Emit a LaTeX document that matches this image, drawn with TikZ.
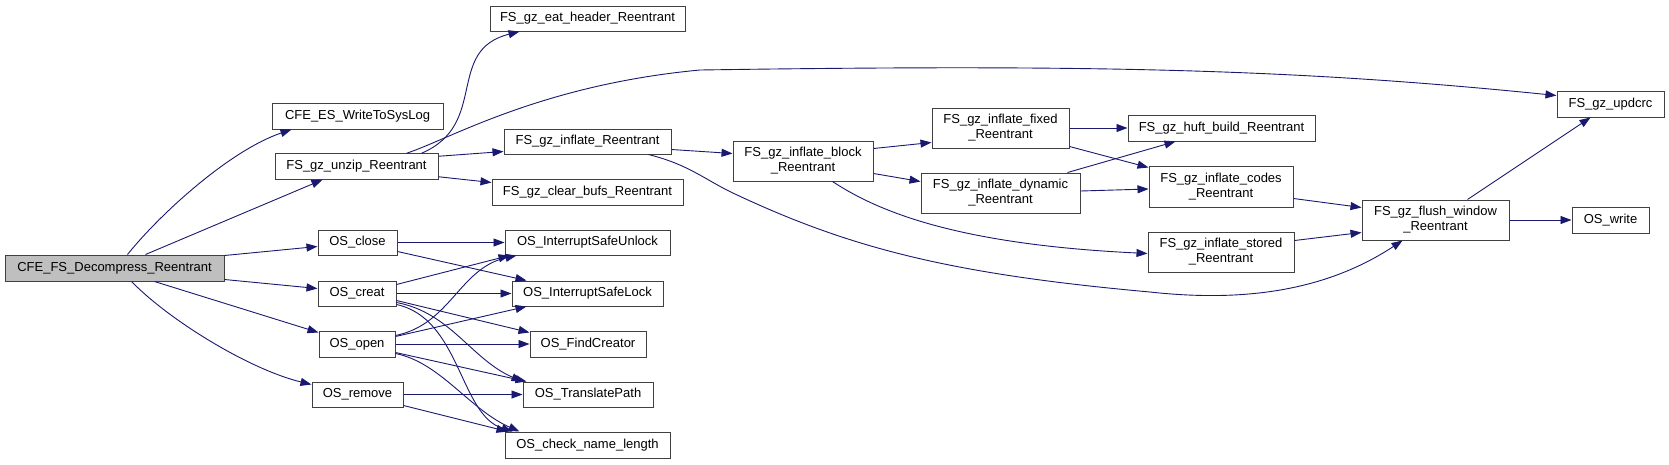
\documentclass[tikz,border=0pt]{standalone}
\usepackage{fontspec}
\setmainfont{Liberation Sans}
\usetikzlibrary{arrows.meta,calc}
\definecolor{edgeblue}{HTML}{191970}
\definecolor{boxline}{HTML}{404040}
\definecolor{boxgray}{HTML}{BFBFBF}
\tikzset{
  fn/.style={draw=boxline, line width=1pt, rectangle, inner sep=0pt, align=center,
    font=\fontsize{13}{15}\selectfont, text=black, fill=white},
  e/.style={draw=edgeblue, line width=0.9pt, -{Triangle[length=11pt,width=8pt]}},
}
\begin{document}
\begin{tikzpicture}[x=1pt,y=-1pt]
\fill[white] (0,0) rectangle (1669,464);
\useasboundingbox (0,0) rectangle (1669,464);

% nodes
\node[fn, fill=boxgray, minimum width=219pt, minimum height=26pt] (dec) at (114.5,268) {CFE\_FS\_Decompress\_Reentrant};
\node[fn, minimum width=171pt, minimum height=26pt] (wtsl) at (357.5,116) {CFE\_ES\_WriteToSysLog};
\node[fn, minimum width=163pt, minimum height=25.5pt] (unzip) at (356.5,166.5) {FS\_gz\_unzip\_Reentrant};
\node[fn, minimum width=79pt, minimum height=25pt] (close) at (357.5,242.5) {OS\_close};
\node[fn, minimum width=78pt, minimum height=25pt] (creat) at (357,293.5) {OS\_creat};
\node[fn, minimum width=76pt, minimum height=26pt] (open) at (357,344) {OS\_open};
\node[fn, minimum width=91pt, minimum height=25pt] (remove) at (357.5,394.5) {OS\_remove};
\node[fn, minimum width=195pt, minimum height=25pt] (eat) at (587.5,18.5) {FS\_gz\_eat\_header\_Reentrant};
\node[fn, minimum width=167pt, minimum height=25pt] (inflate) at (587.5,141.5) {FS\_gz\_inflate\_Reentrant};
\node[fn, minimum width=191pt, minimum height=26pt] (clear) at (587.5,192) {FS\_gz\_clear\_bufs\_Reentrant};
\node[fn, minimum width=165pt, minimum height=25pt] (unlock) at (587.5,242.5) {OS\_InterruptSafeUnlock};
\node[fn, minimum width=151pt, minimum height=25pt] (lock) at (587.5,293.5) {OS\_InterruptSafeLock};
\node[fn, minimum width=116pt, minimum height=26pt] (find) at (588,344) {OS\_FindCreator};
\node[fn, minimum width=130pt, minimum height=25pt] (trans) at (588,394.5) {OS\_TranslatePath};
\node[fn, minimum width=165pt, minimum height=26pt] (check) at (587.5,445) {OS\_check\_name\_length};
\node[fn, minimum width=140pt, minimum height=40pt] (block) at (803,161) {FS\_gz\_inflate\_block\\\_Reentrant};
\node[fn, minimum width=137pt, minimum height=40pt] (fixed) at (1000.5,128) {FS\_gz\_inflate\_fixed\\\_Reentrant};
\node[fn, minimum width=159pt, minimum height=40pt] (dynamic) at (1000.5,193) {FS\_gz\_inflate\_dynamic\\\_Reentrant};
\node[fn, minimum width=187pt, minimum height=26pt] (huft) at (1221.5,128) {FS\_gz\_huft\_build\_Reentrant};
\node[fn, minimum width=144pt, minimum height=41pt] (codes) at (1221,186.5) {FS\_gz\_inflate\_codes\\\_Reentrant};
\node[fn, minimum width=146pt, minimum height=40pt] (stored) at (1221,252) {FS\_gz\_inflate\_stored\\\_Reentrant};
\node[fn, minimum width=147pt, minimum height=40pt] (flush) at (1435.5,220) {FS\_gz\_flush\_window\\\_Reentrant};
\node[fn, minimum width=107pt, minimum height=26pt] (updcrc) at (1610.5,104) {FS\_gz\_updcrc};
\node[fn, minimum width=77pt, minimum height=26pt] (write) at (1610.5,220) {OS\_write};

% edges from CFE_FS_Decompress_Reentrant
\draw[e] ($(dec.north west)+(123,0)$) .. controls +(32,-40) and +(-62,21) .. ($(wtsl.south west)+(20,0)$);
\draw[e] ($(dec.north west)+(141,0)$) -- ($(unzip.south west)+(48,0)$);
\draw[e] ($(dec.north east)+(0,1)$) -- ($(close.north west)+(0,17)$);
\draw[e] ($(dec.south east)+(0,-2)$) -- ($(creat.north west)+(0,8)$);
\draw[e] ($(dec.south west)+(150,0)$) -- ($(open.north west)+(0,2)$);
\draw[e] ($(dec.south west)+(127,0)$) .. controls +(38,39) and +(-62,-15) .. ($(remove.north west)+(0,3)$);

% edges from FS_gz_unzip_Reentrant
\draw[e] ($(unzip.north west)+(147,0)$) .. controls +(68,-29) and +(-75,19) .. ($(eat.south west)+(30,0)$);
\draw[e] ($(unzip.north west)+(132,0)$) .. controls +(43,-14) and (540,85) .. (700,70)
   .. controls (1100,64) and +(-257,-26) .. ($(updcrc.north west)+(0,5)$);
\draw[e] ($(unzip.north east)+(0,3)$) -- ($(inflate.south west)+(0,-3)$);
\draw[e] ($(unzip.south east)+(0,-3)$) -- ($(clear.north west)+(0,4)$);

% inflate
\draw[e] ($(inflate.south east)+(0,-5)$) -- ($(block.north west)+(0,13)$);
\draw[e] ($(inflate.south east)+(-23,0)$) .. controls (690,165) and (705,180) .. (735,194)
   .. controls (850,248) and (950,274) .. (1150,292)
   .. controls (1250,303) and +(-73,48) .. ($(flush.south west)+(41,0)$);

% block
\draw[e] ($(block.north east)+(0,8)$) -- ($(fixed.south west)+(0,-6)$);
\draw[e] ($(block.south east)+(0,-8)$) -- ($(dynamic.north west)+(0,9)$);
\draw[e] ($(block.south west)+(100,0)$) .. controls +(47,31) and +(-188,-9) .. ($(stored.north west)+(0,22)$);

% fixed, dynamic
\draw[e] (fixed.east) -- (huft.west);
\draw[e] ($(fixed.south east)+(0,-2)$) -- ($(codes.north west)+(0,2)$);
\draw[e] ($(dynamic.north east)+(-13,0)$) -- ($(huft.south west)+(48,0)$);
\draw[e] ($(dynamic.east)+(0,-2)$) -- ($(codes.west)+(0,2.5)$);

% codes, stored, flush
\draw[e] ($(codes.south east)+(0,-9)$) -- ($(flush.north west)+(0,8)$);
\draw[e] ($(stored.north east)+(0,9)$) -- ($(flush.south west)+(0,-8)$);
\draw[e] ($(flush.north west)+(106,0)$) -- ($(updcrc.south west)+(34,0)$);
\draw[e] (flush.east) -- (write.west);

% OS_close
\draw[e] (close.east) -- (unlock.west);
\draw[e] ($(close.south east)+(0,-4)$) -- ($(lock.north west)+(15,0)$);

% OS_creat
\draw[e] ($(creat.north east)+(0,4)$) -- ($(unlock.south west)+(5,0)$);
\draw[e] (creat.east) -- (lock.west);
\draw[e] ($(creat.south east)+(0,-6)$) -- ($(find.north west)+(0,2)$);
\draw[e] ($(creat.south east)+(0,-4)$) .. controls +(54,10) and +(-51,-22) .. (trans.north west);
\draw[e] ($(creat.south east)+(0,-2)$) .. controls +(64,14) and +(-53,-17) .. ($(check.north west)+(8,0)$);

% OS_open
\draw[e] ($(open.north east)+(0,5)$) .. controls +(55,-11) and +(-57,12.5) .. ($(unlock.south west)+(12,0)$);
\draw[e] ($(open.north east)+(0,6)$) -- ($(lock.south west)+(15,0)$);
\draw[e] (open.east) -- (find.west);
\draw[e] ($(open.south east)+(0,-5)$) -- ($(trans.north west)+(4,0)$);
\draw[e] ($(open.south east)+(0,-4)$) .. controls +(45,9) and +(-50,-22) .. ($(check.north west)+(15,0)$);

% OS_remove
\draw[e] (remove.east) -- (trans.west);
\draw[e] ($(remove.south east)+(0,-2)$) -- ($(check.north west)+(3,0)$);
\end{tikzpicture}
\end{document}
